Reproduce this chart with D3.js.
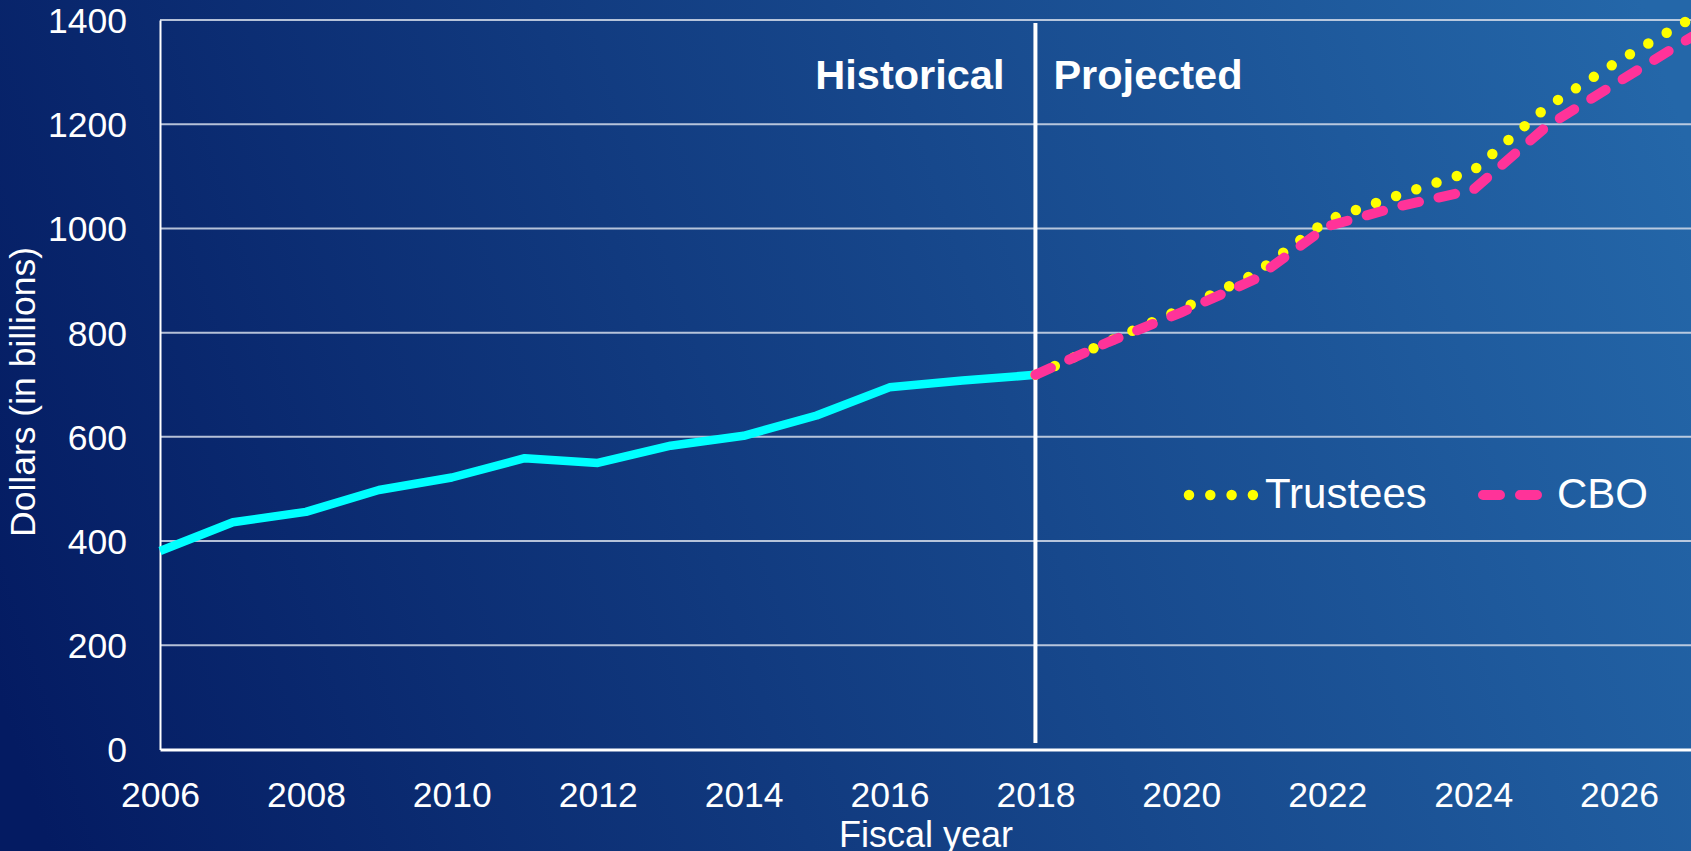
<!DOCTYPE html>
<html>
<head>
<meta charset="utf-8">
<script src="https://cdn.jsdelivr.net/npm/d3@7/dist/d3.min.js"></script>
<style>
  html, body { margin: 0; padding: 0; overflow: hidden; background: #0a2468; }
  svg { display: block; font-family: "Liberation Sans", Arial, sans-serif; }
</style>
</head>
<body>
<div id="container"></div>
<script>
// Chart data (dollars in billions, by fiscal year)
var histYears = [2006, 2007, 2008, 2009, 2010, 2011, 2012, 2013, 2014, 2015, 2016, 2017, 2018];
var histValues = [381, 436, 456, 498, 522, 559, 550, 583, 602, 641, 695, 708, 719];

var projYears = [2018, 2019, 2020, 2021, 2022, 2023, 2024, 2025, 2026, 2027];
var trusteesValues = [719, 783, 845, 912, 1016, 1065, 1111, 1232, 1322, 1404];
var cboValues = [719, 782, 839, 902, 1004, 1043, 1074, 1195, 1282, 1368];

var xTicks = [2006, 2008, 2010, 2012, 2014, 2016, 2018, 2020, 2022, 2024, 2026];
var yTicks = [0, 200, 400, 600, 800, 1000, 1200, 1400];

var splitYear = 2018;
var seriesNames = ["Trustees", "CBO"];

// Size of the page
var width = 1691,
    height = 851;

var svg = d3.select("div#container").append("svg")
    .attr("width", width)
    .attr("height", height);

// background gradient, dark navy bottom left to lighter blue top right
var defs = svg.append("defs");
var grad = defs.append("linearGradient")
    .attr("id", "bg")
    .attr("gradientUnits", "userSpaceOnUse")
    .attr("x1", 0).attr("y1", 700)
    .attr("x2", width).attr("y2", 150);
grad.append("stop").attr("offset", "0%").attr("stop-color", "#041b62");
grad.append("stop").attr("offset", "100%").attr("stop-color", "#2467a9");

svg.append("rect")
    .attr("width", width)
    .attr("height", height)
    .attr("fill", "url(#bg)");

// scales
var x = d3.scaleLinear().domain([2006, 2027]).range([160, 1692]);
var y = d3.scaleLinear().domain([0, 1400]).range([749.5, 20]);

// gridlines
svg.append("g")
    .attr("class", "grid")
    .selectAll("line")
    .data(yTicks.filter(function(d) { return d > 0; }))
    .enter().append("line")
      .attr("x1", x(2006))
      .attr("x2", width)
      .attr("y1", function(d) { return y(d); })
      .attr("y2", function(d) { return y(d); })
      .attr("stroke", "#d4dcea")
      .attr("stroke-opacity", 0.85)
      .attr("stroke-width", 2);

// y axis
var yAxis = d3.axisLeft(y).tickValues(yTicks).tickSize(0).tickPadding(33).tickFormat(d3.format("d"));
var gy = svg.append("g")
    .attr("transform", "translate(" + x(2006) + ",0)")
    .call(yAxis);
gy.select(".domain").attr("stroke", "#ffffff").attr("stroke-width", 2);
gy.selectAll("text")
    .attr("fill", "#ffffff")
    .style("font-size", "35.5px")
    .attr("dy", "0.35em");

// x axis
var xAxis = d3.axisBottom(x).tickValues(xTicks).tickSize(0).tickPadding(32).tickFormat(d3.format("d"));
var gx = svg.append("g")
    .attr("transform", "translate(0," + y(0) + ")")
    .call(xAxis);
gx.select(".domain").attr("stroke", "#ffffff").attr("stroke-width", 3);
gx.selectAll("text")
    .attr("fill", "#ffffff")
    .style("font-size", "35.5px");

// axis titles (the reference cuts the x title at the bottom edge too)
svg.append("text")
    .attr("x", (x(2006) + x(2027)) / 2)
    .attr("y", 847)
    .attr("text-anchor", "middle")
    .attr("fill", "#ffffff")
    .style("font-size", "36px")
    .text("Fiscal year");

svg.append("text")
    .attr("transform", "translate(35,392) rotate(-90)")
    .attr("text-anchor", "middle")
    .attr("fill", "#ffffff")
    .style("font-size", "35.5px")
    .text("Dollars (in billions)");

// historical / projected divider
svg.append("line")
    .attr("x1", x(splitYear)).attr("x2", x(splitYear))
    .attr("y1", 23).attr("y2", 743)
    .attr("stroke", "#ffffff")
    .attr("stroke-width", 4);

svg.append("text")
    .attr("x", x(splitYear) - 31)
    .attr("y", 89)
    .attr("text-anchor", "end")
    .attr("fill", "#ffffff")
    .style("font-size", "41.5px")
    .style("font-weight", "bold")
    .text("Historical");

svg.append("text")
    .attr("x", x(splitYear) + 18)
    .attr("y", 89)
    .attr("text-anchor", "start")
    .attr("fill", "#ffffff")
    .style("font-size", "41.5px")
    .style("font-weight", "bold")
    .text("Projected");

// lines
var line = d3.line()
    .x(function(d) { return x(d[0]); })
    .y(function(d) { return y(d[1]); });

svg.append("path")
    .datum(d3.zip(histYears, histValues))
    .attr("d", line)
    .attr("fill", "none")
    .attr("stroke", "#00ffff")
    .attr("stroke-width", 8.5)
    .attr("stroke-linejoin", "round");

var dotStyle = { color: "#ffff00", width: 10.5, dash: "0 21.3" };
var dashStyle = { color: "#ff3399", width: 10, dash: "17 20" };

svg.append("path")
    .datum(d3.zip(projYears, trusteesValues))
    .attr("d", line)
    .attr("fill", "none")
    .attr("stroke", dotStyle.color)
    .attr("stroke-width", dotStyle.width)
    .attr("stroke-linecap", "round")
    .attr("stroke-dasharray", dotStyle.dash);

svg.append("path")
    .datum(d3.zip(projYears, cboValues))
    .attr("d", line)
    .attr("fill", "none")
    .attr("stroke", dashStyle.color)
    .attr("stroke-width", dashStyle.width)
    .attr("stroke-linecap", "round")
    .attr("stroke-dasharray", dashStyle.dash);

// legend
var legend = svg.append("g").attr("class", "legend");
var legendItems = [
  { name: seriesNames[0], style: dotStyle, x1: 1189, x2: 1254, tx: 1265 },
  { name: seriesNames[1], style: dashStyle, x1: 1483, x2: 1539, tx: 1557 }
];
legendItems.forEach(function(it) {
  legend.append("line")
      .attr("x1", it.x1).attr("x2", it.x2)
      .attr("y1", 495).attr("y2", 495)
      .attr("stroke", it.style.color)
      .attr("stroke-width", it.style.width)
      .attr("stroke-linecap", "round")
      .attr("stroke-dasharray", it.style.dash);
  legend.append("text")
      .attr("x", it.tx)
      .attr("y", 508)
      .attr("fill", "#ffffff")
      .style("font-size", "42px")
      .text(it.name);
});
</script>
</body>
</html>
